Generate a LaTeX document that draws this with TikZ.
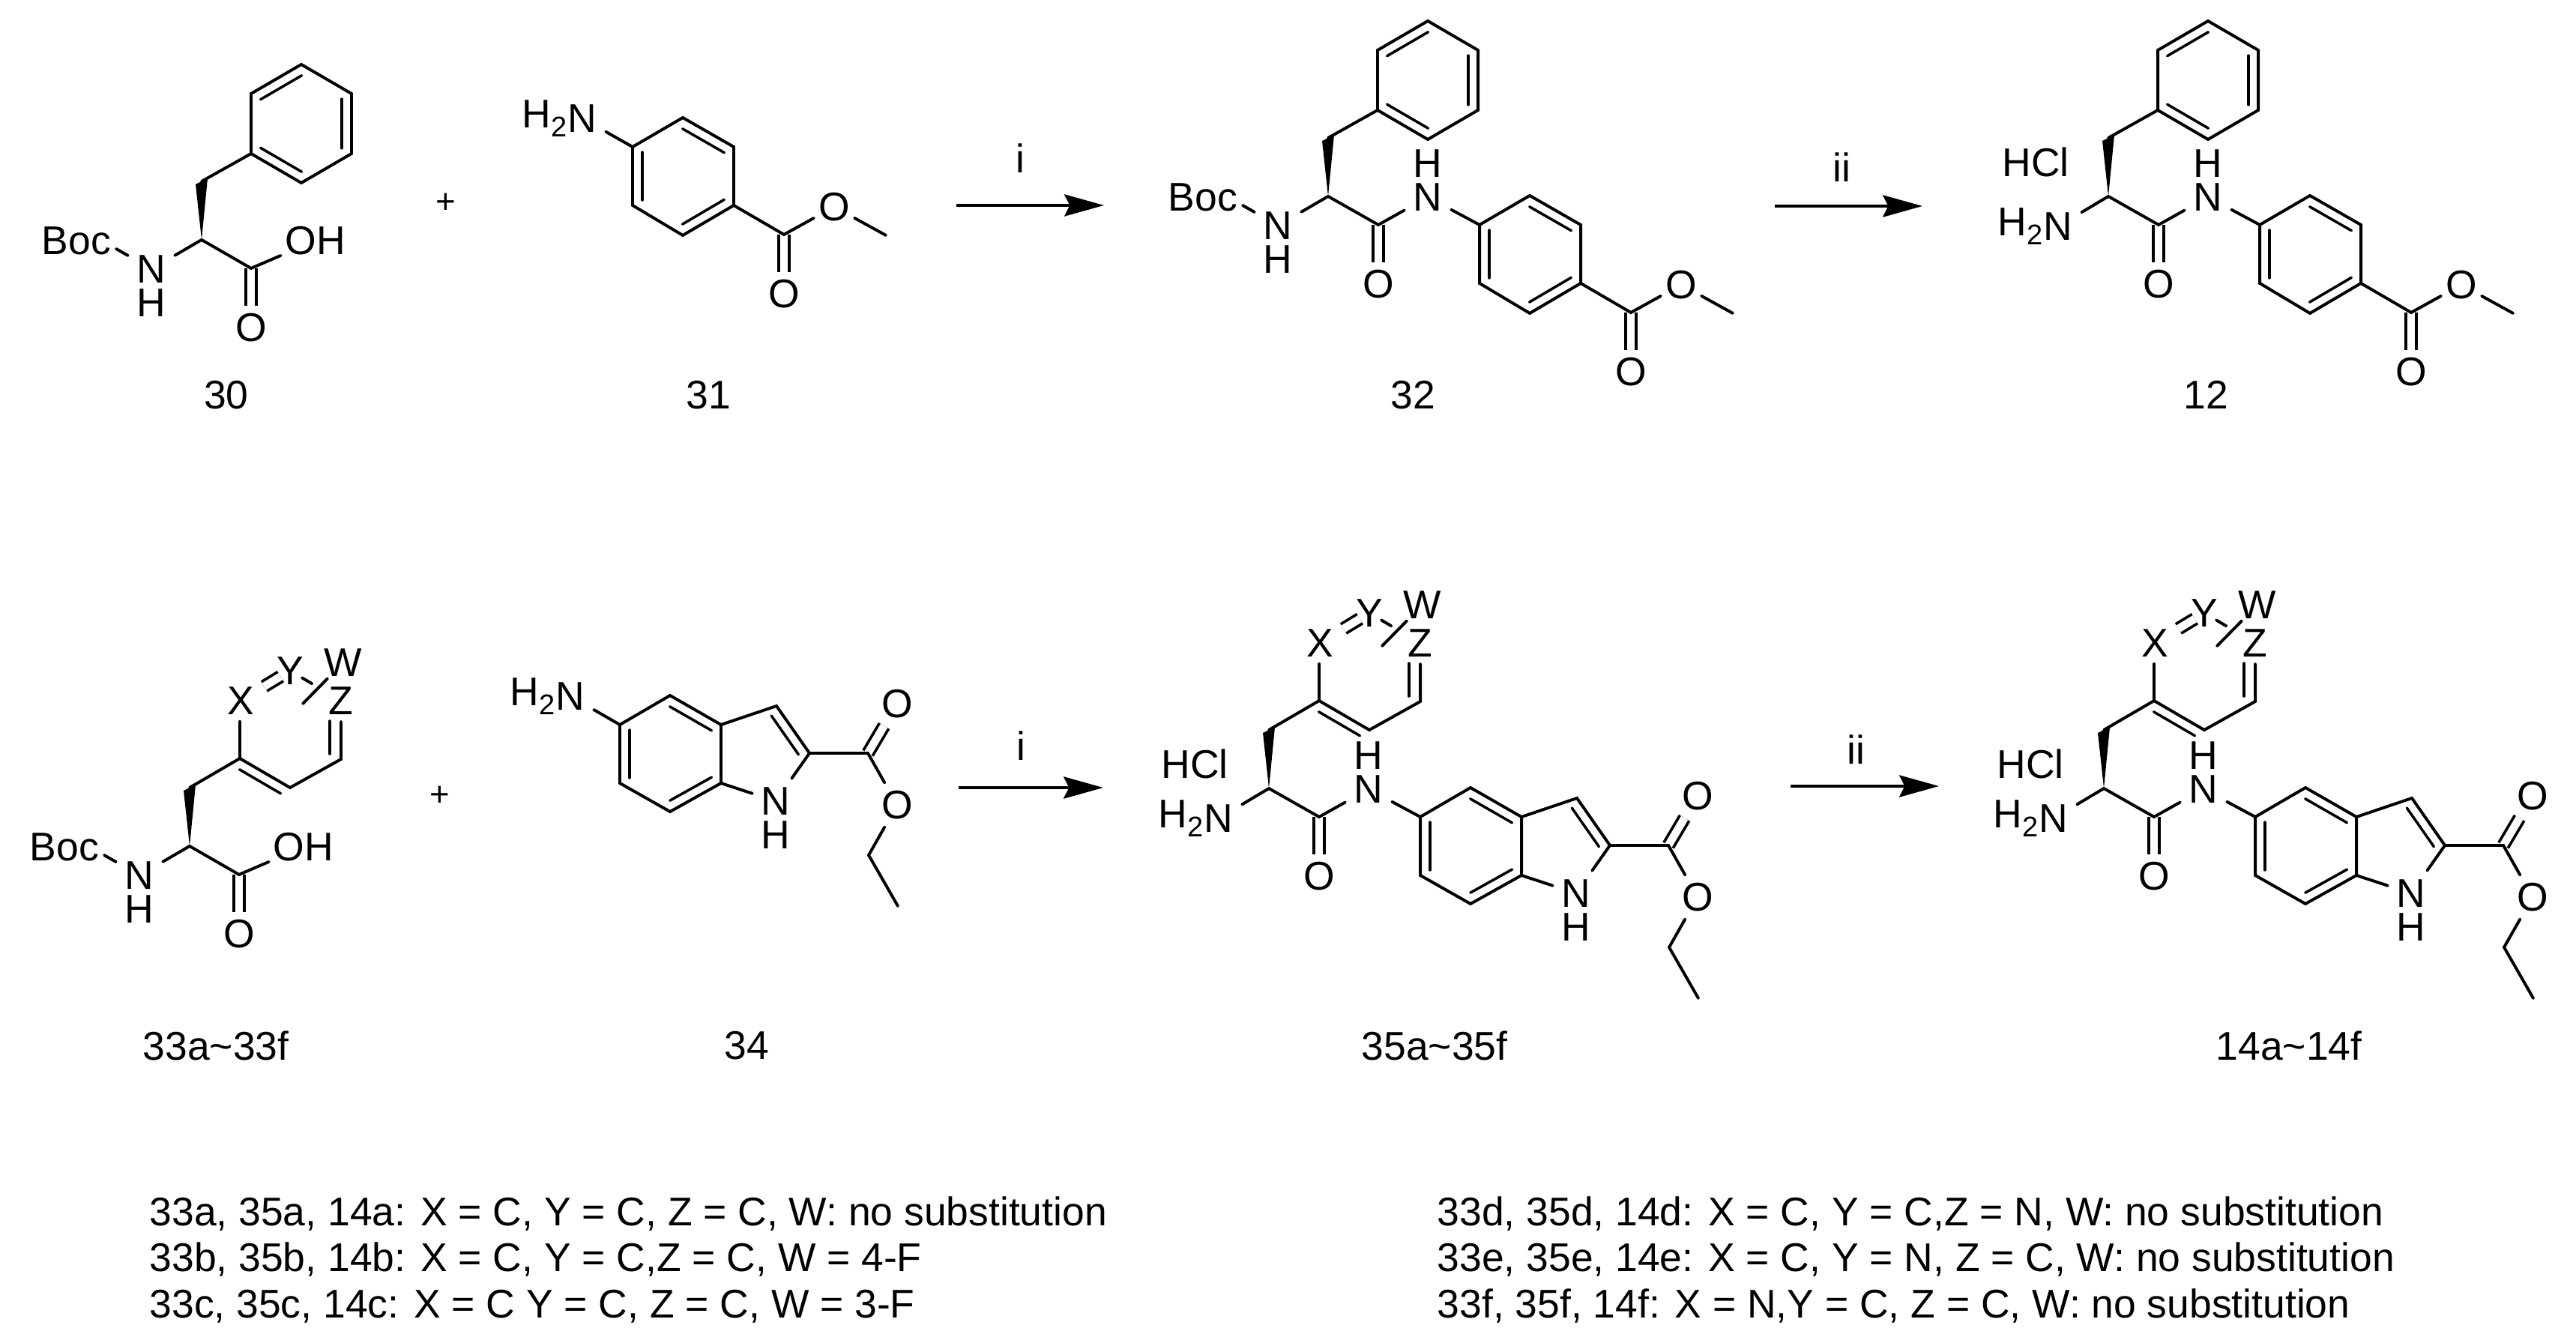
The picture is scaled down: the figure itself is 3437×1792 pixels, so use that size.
\documentclass[tikz,border=0pt]{standalone}
\usepackage{fontspec}
\setmainfont{Liberation Sans}
\usetikzlibrary{calc,arrows.meta}
\newcommand\fs{\fontsize{15.2}{18}\selectfont}
\tikzset{
  atom/.style={inner xsep=3.2pt,inner ysep=3.2pt,font=\fs},
  oxy/.style={inner xsep=1.6pt,inner ysep=2.8pt,font=\fs},
  tight/.style={inner xsep=1pt,inner ysep=2.5pt,font=\fs},
  plain/.style={inner sep=0pt,font=\fs},
  bond/.style={line width=1.12pt,line cap=round,line join=miter},
  ibond/.style={line width=1pt,line cap=round},
  dbond/.style={double,double distance=3pt,line width=1.05pt},
  rxn/.style={line width=1.3pt,-{Stealth[length=15pt,width=8.25pt,inset=2pt]}}
}
\newcommand\ringdb[2]{\draw[ibond] ($(#1)!.09!(#2)!-0.13cm!90:(#2)$) -- ($(#1)!.91!(#2)!-0.13cm!90:(#2)$);}
\newcommand\wedgeb{\coordinate (chi) at (0,0); \coordinate (ch2) at (0,-78);
  \coordinate (wl) at (-8,-74); \coordinate (wr) at (8,-82);
  \fill (wl) -- (wr) -- (chi) -- cycle;}
\newcommand\phering{\wedgeb
  \coordinate (r1) at (66,-115); \coordinate (r2) at (66,-195); \coordinate (r3) at (133,-234);
  \coordinate (r4) at (200,-195); \coordinate (r5) at (200,-115); \coordinate (r6) at (133,-76);
  \draw[bond] (ch2) -- (r1);
  \draw[bond] (r1) -- (r2) -- (r3) -- (r4) -- (r5) -- (r6) -- cycle;
  \ringdb{r2}{r3}\ringdb{r4}{r5}\ringdb{r6}{r1}}
\newcommand\xyzring{\wedgeb
  \coordinate (r1) at (67,-117); \coordinate (r5) at (202,-116); \coordinate (r6) at (134,-78);
  \node[tight] (x) at (68,-194) {X};
  \node[tight] (y) at (134,-234) {Y};
  \node[tight] (z) at (202,-194) {Z};
  \node[tight] (w) at (205,-245) {W};
  \coordinate (wb) at (151,-190);
  \coordinate (zi1) at (187,-167); \coordinate (zi2) at (187,-123);
  \draw[dbond,shorten <=0.11cm,shorten >=-0.11cm] (x) -- (y);
  \draw[bond] (ch2) -- (r1);
  \draw[bond] (r1) -- (r1 |- x.south);
  \draw[bond] (r1) -- (r6) -- (r5) -- (r5 |- z.south);
  \draw[bond,shorten <=-0.07cm,shorten >=0.21cm] (y) -- (z);
  \draw[bond,shorten >=-0.09cm] (wb) -- (w);
  \draw[ibond] (zi1) -- (zi2);
  \ringdb{r1}{r6}}
\newcommand\bocamine{
  \node[atom] (n) at (-67,39) {N};
  \node[atom] (nh) at (-67,84) {H};
  \node[atom] (boc) at (-167,1) {Boc};
  \coordinate (bb) at (-114,12);
  \draw[bond] (bb) -- (n);
  \draw[bond] (n) -- (chi);}
\newcommand\bocacid{\bocamine
  \coordinate (co) at (66,38);
  \node[oxy] (o) at (66,117) {O};
  \node[oxy] (oh) at (152,1) {OH};
  \draw[dbond] (co) -- (o);
  \draw[bond] (chi) -- (co) -- (oh);}
\newcommand\amide{
  \coordinate (co) at (67,38);
  \node[oxy] (o) at (67,117) {O};
  \node[atom] (an) at (133,1) {N};
  \node[atom] (ah) at (133,-44) {H};
  \coordinate (ip) at (202,38);
  \draw[dbond] (co) -- (o);
  \draw[bond] (chi) -- (co) -- (an) -- (ip);}
\newcommand\htwon[2]{% name, position
  \node[atom] (#1) at (#2) {N};
  \node[plain,anchor=east] (#1h) at ([xshift=3.2pt]#1.west) {H\raisebox{-3.4pt}{\fontsize{10.8}{10.8}\selectfont 2}};}
\newcommand\amine[1]{
  \htwon{n}{-67,40}
  \node[atom] (hcl) at (#1) {HCl};
  \draw[bond] (chi) -- (n);}
\newcommand\benzoate{
  \coordinate (b1) at (0,0); \coordinate (b2) at (67,-39); \coordinate (b3) at (135,0);
  \coordinate (b4) at (135,78); \coordinate (b5) at (67,118); \coordinate (b6) at (0,78);
  \coordinate (ec) at (202,117);
  \node[oxy] (eo) at (269,80) {O};
  \coordinate (me) at (338,118);
  \node[oxy] (cdo) at (202,196) {O};
  \draw[dbond] (ec) -- (cdo);
  \draw[bond] (b1) -- (b2) -- (b3) -- (b4) -- (b5) -- (b6) -- cycle;
  \draw[bond] (b4) -- (ec) -- (eo) -- (me);
  \ringdb{b2}{b3}\ringdb{b4}{b5}\ringdb{b6}{b1}}
\newcommand\indole{
  \coordinate (b1) at (0,0); \coordinate (b2) at (67,-39); \coordinate (b3) at (135,0);
  \coordinate (b4) at (135,78); \coordinate (b5) at (67,116); \coordinate (b6) at (0,78);
  \coordinate (c3) at (209,-25); \coordinate (c2) at (253,38);
  \node[atom] (in) at (208,102) {N};
  \node[atom] (ih) at (208,147) {H};
  \coordinate (ec) at (331,38);
  \node[oxy] (cdo) at (370,-28) {O};
  \node[oxy] (eo) at (370,107) {O};
  \coordinate (et1) at (332,174); \coordinate (et2) at (371,242);
  \draw[dbond] (ec) -- (cdo);
  \draw[bond] (b1) -- (b2) -- (b3) -- (b4) -- (b5) -- (b6) -- cycle;
  \draw[bond] (b3) -- (c3) -- (c2) -- (in) -- (b4);
  \draw[bond] (c2) -- (ec) -- (eo) -- (et1) -- (et2);
  \ringdb{b2}{b3}\ringdb{b4}{b5}\ringdb{b6}{b1}\ringdb{c3}{c2}}
\begin{document}
\begin{tikzpicture}[x=0.01cm,y=-0.01cm]
\useasboundingbox (0,0) rectangle (3437,1792);
\fill[white] (0,0) rectangle (3437,1792);
% 30
\begin{scope}[shift={(269,320)},name prefix=a-]\phering\bocacid\end{scope}
% 31
\begin{scope}[shift={(844,196)},name prefix=b-]\benzoate
  \htwon{n}{-67,-38}\draw[bond] (n) -- (b1);\end{scope}
% 32
\begin{scope}[shift={(1772,262)},name prefix=c-]\phering\bocamine\amide
  \begin{scope}[shift={(202,38)}]\benzoate\end{scope}
\end{scope}
% 12
\begin{scope}[shift={(2813,262)},name prefix=d-]\phering\amine{-97,-46}\amide
  \begin{scope}[shift={(202,38)}]\benzoate\end{scope}
\end{scope}
% 33
\begin{scope}[shift={(253,1129)},name prefix=e-]\xyzring\bocacid\end{scope}
% 34
\begin{scope}[shift={(827,967)},name prefix=f-]\indole
  \htwon{n}{-66,-38}\draw[bond] (n) -- (b1);\end{scope}
% 35
\begin{scope}[shift={(1693,1052)},name prefix=g-]\xyzring\amine{-99,-33}\amide
  \begin{scope}[shift={(202,38)}]\indole\end{scope}
\end{scope}
% 14
\begin{scope}[shift={(2807,1052)},name prefix=h-]\xyzring\amine{-98,-33}\amide
  \begin{scope}[shift={(202,38)}]\indole\end{scope}
\end{scope}
% plus signs
\node[plain,font=\fontsize{13}{14}\selectfont] (p1) at (595,271) {+};
\node[plain,font=\fontsize{13}{14}\selectfont] (p2) at (587,1062) {+};
% arrows
\coordinate (a1s) at (1276,274); \coordinate (a1e) at (1473,274);
\coordinate (a2s) at (2368,275); \coordinate (a2e) at (2565,275);
\coordinate (a3s) at (1279,1051); \coordinate (a3e) at (1472,1051);
\coordinate (a4s) at (2389,1049); \coordinate (a4e) at (2587,1049);
\draw[rxn] (a1s) -- (a1e);
\draw[rxn] (a2s) -- (a2e);
\draw[rxn] (a3s) -- (a3e);
\draw[rxn] (a4s) -- (a4e);
\node[plain] (r1) at (1361,211) {i};
\node[plain] (r2) at (2457,223) {ii};
\node[plain] (r3) at (1362,995) {i};
\node[plain] (r4) at (2476,1000) {ii};
% compound labels
\node[plain] (l30) at (302,527) {30};
\node[plain] (l31) at (945,527) {31};
\node[plain] (l32) at (1885,527) {32};
\node[plain] (l12) at (2943,527) {12};
\node[plain] (l33) at (288,1395) {33a\textasciitilde 33f};
\node[plain] (l34) at (996,1395) {34};
\node[plain] (l35) at (1914,1395) {35a\textasciitilde 35f};
\node[plain] (l14) at (3054,1395) {14a\textasciitilde 14f};
% legend
\node[plain,anchor=west] (t1) at (199,1620) {33a, 35a, 14a: X = C, Y = C, Z = C, W: no substitution};
\node[plain,anchor=west] (t2) at (199,1681) {33b, 35b, 14b: X = C, Y = C,Z = C, W = 4-F};
\node[plain,anchor=west] (t3) at (199,1743) {33c, 35c, 14c: X = C Y = C, Z = C, W = 3-F};
\node[plain,anchor=west] (t4) at (1917,1620) {33d, 35d, 14d: X = C, Y = C,Z = N, W: no substitution};
\node[plain,anchor=west] (t5) at (1917,1681) {33e, 35e, 14e: X = C, Y = N, Z = C, W: no substitution};
\node[plain,anchor=west] (t6) at (1917,1743) {33f, 35f, 14f: X = N,Y = C, Z = C, W: no substitution};
\end{tikzpicture}
\end{document}
